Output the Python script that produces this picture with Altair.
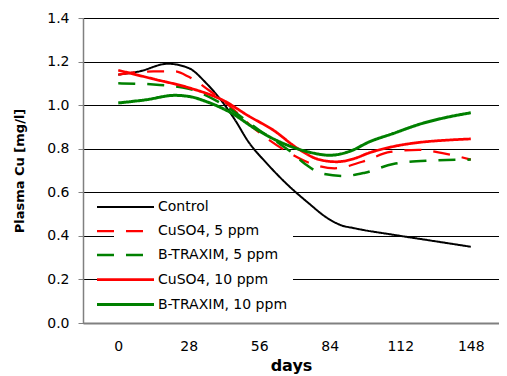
import json
import altair as alt
import pandas as pd

series_names = ["Control", "CuSO4, 5 ppm", "B-TRAXIM, 5 ppm", "CuSO4, 10 ppm", "B-TRAXIM, 10 ppm"]
series_colors = ["#000000", "#FF0000", "#008000", "#FF0000", "#008000"]
series_dash = [[1, 0], [17, 12], [17, 12], [1, 0], [1, 0]]
series_width = [2, 3, 3, 2, 2]

day_labels = ["0", "28", "56", "84", "112", "148"]

# x positions are category-index units (0 = day 0 ... 5 = day 148)
control_x = [0, 0.3, 0.7, 1.0, 1.25, 1.5, 1.65, 1.85, 2.1, 2.4, 2.7, 2.95, 3.15, 3.35, 3.9, 4.4, 5.0]
control_y = [1.14, 1.155, 1.19, 1.17, 1.10, 1.005, 0.935, 0.83, 0.735, 0.635, 0.55, 0.485, 0.45, 0.435, 0.405, 0.38, 0.35]

cuso4_5_x = [0, 0.5, 0.8, 1.0, 1.3, 1.6, 1.9, 2.12, 2.43, 2.75, 3.07, 3.46, 3.86, 4.26, 4.6, 5.0]
cuso4_5_y = [1.14, 1.155, 1.155, 1.13, 1.065, 0.99, 0.90, 0.845, 0.78, 0.73, 0.71, 0.74, 0.785, 0.795, 0.78, 0.75]

btrax_5_x = [0, 0.5, 1.0, 1.5, 2.0, 2.3, 2.45, 2.65, 2.9, 3.2, 3.5, 3.9, 4.4, 5.0]
btrax_5_y = [1.10, 1.095, 1.075, 1.0, 0.885, 0.82, 0.785, 0.73, 0.685, 0.675, 0.69, 0.73, 0.745, 0.75]

cuso4_10_x = [0, 0.5, 1.0, 1.5, 1.85, 2.2, 2.55, 2.85, 3.1, 3.35, 3.55, 3.9, 4.3, 4.7, 5.0]
cuso4_10_y = [1.16, 1.12, 1.08, 1.02, 0.95, 0.885, 0.80, 0.75, 0.74, 0.755, 0.78, 0.81, 0.83, 0.84, 0.845]

btrax_10_x = [0, 0.4, 0.8, 1.0, 1.3, 1.6, 1.95, 2.3, 2.7, 3.0, 3.3, 3.55, 3.9, 4.3, 4.6, 5.0]
btrax_10_y = [1.01, 1.025, 1.045, 1.04, 1.01, 0.965, 0.89, 0.83, 0.785, 0.77, 0.79, 0.83, 0.87, 0.915, 0.94, 0.965]

xs = [control_x, cuso4_5_x, btrax_5_x, cuso4_10_x, btrax_10_x]
ys = [control_y, cuso4_5_y, btrax_5_y, cuso4_10_y, btrax_10_y]

rows = []
for name, sx, sy in zip(series_names, xs, ys):
    for a, b in zip(sx, sy):
        rows.append({"series": name, "pos": a, "value": b})
df = pd.DataFrame(rows)

font = "DejaVu Sans"
label_expr = json.dumps(day_labels) + "[datum.value]"

chart = alt.Chart(df).mark_line(interpolate="monotone").encode(
    x=alt.X("pos:Q",
            scale=alt.Scale(domain=[-0.5, 5.4], nice=False, zero=False),
            axis=alt.Axis(values=list(range(len(day_labels))), labelExpr=label_expr,
                          title="days", grid=False, ticks=False,
                          domainColor="#808080", domainWidth=2,
                          labelFont=font, labelFontSize=14, labelColor="#000000",
                          labelPadding=16, titleFont=font, titleFontSize=16,
                          titleFontWeight="bold", titleColor="#000000", titlePadding=4)),
    y=alt.Y("value:Q",
            scale=alt.Scale(domain=[0, 1.4], nice=False),
            axis=alt.Axis(values=[0, 0.2, 0.4, 0.6, 0.8, 1.0, 1.2, 1.4], format=".1f",
                          title="Plasma Cu [mg/l]", grid=True, gridColor="#000000",
                          gridWidth=1, gridOpacity=1, domainColor="#808080",
                          domainWidth=1.5, tickColor="#808080", tickSize=5,
                          labelFont=font, labelFontSize=14, labelColor="#000000",
                          labelPadding=9, titleFont=font, titleFontSize=13,
                          titleFontWeight="bold", titleColor="#000000", titlePadding=20)),
    color=alt.Color("series:N", sort=series_names,
                    scale=alt.Scale(domain=series_names, range=series_colors),
                    legend=alt.Legend(title=None, orient="none", legendX=31, legendY=178,
                                      symbolType="M-5,0H5", symbolSize=130,
                                      labelOffset=25, rowPadding=10, padding=4,
                                      labelFont=font, labelFontSize=14,
                                      labelColor="#000000", fillColor="white",
                                      strokeColor="white")),
    strokeDash=alt.StrokeDash("series:N", sort=series_names,
                              scale=alt.Scale(domain=series_names, range=series_dash)),
    strokeWidth=alt.StrokeWidth("series:N", sort=series_names,
                                scale=alt.Scale(domain=series_names, range=series_width)),
).properties(
    width=416, height=305,
    autosize="none",
    padding={"left": 75, "top": 10, "right": 0, "bottom": 55},
).configure_view(strokeWidth=0)

chart.save("out.html", embed_options={"renderer": "svg", "actions": False})
